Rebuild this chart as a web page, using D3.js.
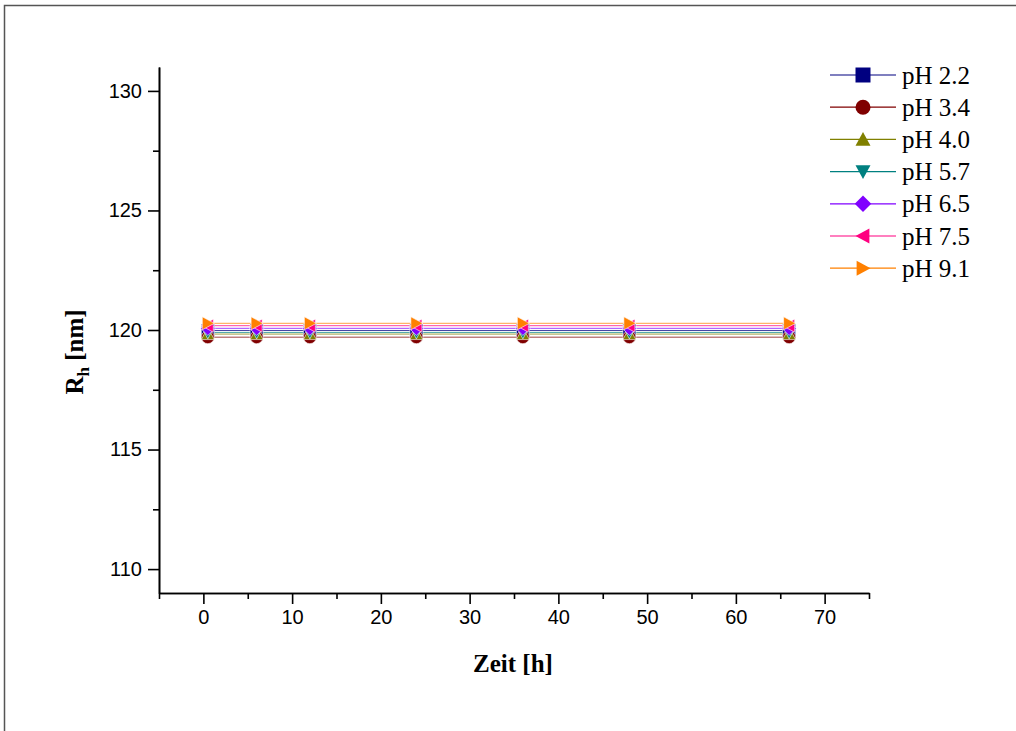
<!DOCTYPE html>
<html>
<head>
<meta charset="utf-8">
<script src="https://cdn.jsdelivr.net/npm/d3@7"></script>
<style>
  html, body { margin: 0; padding: 0; background: #fff; overflow: hidden; }
  svg { display: block; }
</style>
</head>
<body>
<svg id="chart" width="1016" height="731"></svg>
<script>
// Sampling times (h)
const times = [0.5, 6, 12, 24, 36, 48, 66];

// Series names and hydrodynamic radius per pH (nm), constant over time
const seriesNames = ["pH 2.2", "pH 3.4", "pH 4.0", "pH 5.7", "pH 6.5", "pH 7.5", "pH 9.1"];
const rh_pH22 = [119.98, 119.98, 119.98, 119.98, 119.98, 119.98, 119.98];
const rh_pH34 = [119.70, 119.70, 119.70, 119.70, 119.70, 119.70, 119.70];
const rh_pH40 = [119.83, 119.83, 119.83, 119.83, 119.83, 119.83, 119.83];
const rh_pH57 = [119.90, 119.90, 119.90, 119.90, 119.90, 119.90, 119.90];
const rh_pH65 = [120.07, 120.07, 120.07, 120.07, 120.07, 120.07, 120.07];
const rh_pH75 = [120.18, 120.18, 120.18, 120.18, 120.18, 120.18, 120.18];
const rh_pH91 = [120.28, 120.28, 120.28, 120.28, 120.28, 120.28, 120.28];
const seriesValues = [rh_pH22, rh_pH34, rh_pH40, rh_pH57, rh_pH65, rh_pH75, rh_pH91];

// Axis ticks
const xTicksMajor = [0, 10, 20, 30, 40, 50, 60, 70];
const xTicksMinor = [-5, 5, 15, 25, 35, 45, 55, 65, 75];
const yTicksMajor = [110, 115, 120, 125, 130];
const yTicksMinor = [112.5, 117.5, 122.5, 127.5];

const colors = ["#000080", "#800000", "#808000", "#008080", "#8000FF", "#FF0080", "#FF8000"];
const symbolKinds = ["square", "circle", "triUp", "triDown", "diamond", "triLeft", "triRight"];

const svg = d3.select("#chart");

// outer frame: only the top and left edges fall inside the page
svg.append("path")
  .attr("d", "M4.5,731V5.5H1016")
  .attr("fill", "none").attr("stroke", "#555").attr("stroke-width", 1.5);

const x = d3.scaleLinear().domain([-5, 75]).range([159, 869]);
const y = d3.scaleLinear().domain([109, 131]).range([593, 67]);

// symbol path generator centred at 0,0
function symbolPath(kind, s) {
  const h = s / 2;
  switch (kind) {
    case "square": return `M${-h},${-h}H${h}V${h}H${-h}Z`;
    case "circle": return `M${h},0A${h},${h} 0 1,1 ${-h},0A${h},${h} 0 1,1 ${h},0Z`;
    case "triUp": return `M0,${-h}L${h},${h * 0.85}L${-h},${h * 0.85}Z`;
    case "triDown": return `M0,${h}L${h},${-h * 0.85}L${-h},${-h * 0.85}Z`;
    case "diamond": return `M0,${-h * 1.1}L${h * 1.1},0L0,${h * 1.1}L${-h * 1.1},0Z`;
    case "triLeft": return `M${-h},0L${h * 0.85},${-h}L${h * 0.85},${h}Z`;
    case "triRight": return `M${h},0L${-h * 0.85},${-h}L${-h * 0.85},${h}Z`;
  }
}

// data lines
const line = d3.line().x(d => x(d[0])).y(d => y(d[1]));
const plot = svg.append("g");
seriesValues.forEach((vals, i) => {
  const pts = times.map((t, j) => [t, vals[j]]);
  plot.append("path")
    .attr("d", line(pts))
    .attr("fill", "none")
    .attr("stroke", colors[i])
    .attr("stroke-opacity", 0.75)
    .attr("stroke-width", 1);
});
seriesValues.forEach((vals, i) => {
  plot.selectAll(null)
    .data(times.map((t, j) => [t, vals[j]]))
    .enter().append("path")
    .attr("transform", d => `translate(${x(d[0])},${y(d[1])})`)
    .attr("d", symbolPath(symbolKinds[i], 13))
    .attr("fill", colors[i])
    .attr("stroke", "#fff")
    .attr("stroke-width", 0.6);
});

// axes
const axisColor = "#000";
const axisW = 1.6;
const tickFont = "'Liberation Sans', Arial, sans-serif";

const xAxisMajor = d3.axisBottom(x).tickValues(xTicksMajor).tickSize(11).tickSizeOuter(0).tickPadding(6).tickFormat(d3.format("d"));
const xAxisMinor = d3.axisBottom(x).tickValues(xTicksMinor).tickSize(6).tickSizeOuter(0).tickFormat("");
const yAxisMajor = d3.axisLeft(y).tickValues(yTicksMajor).tickSize(11).tickSizeOuter(0).tickPadding(6).tickFormat(d3.format("d"));
const yAxisMinor = d3.axisLeft(y).tickValues(yTicksMinor).tickSize(6).tickSizeOuter(0).tickFormat("");

function styleAxis(g) {
  g.select(".domain").attr("stroke", axisColor).attr("stroke-width", axisW);
  g.selectAll(".tick line").attr("stroke", axisColor).attr("stroke-width", axisW);
  g.selectAll(".tick text").attr("fill", "#000")
    .style("font-family", tickFont).style("font-size", "20px");
}

svg.append("g").attr("transform", `translate(0,${y(109)})`).call(xAxisMinor).call(styleAxis);
svg.append("g").attr("transform", `translate(0,${y(109)})`).call(xAxisMajor).call(styleAxis);
svg.append("g").attr("transform", `translate(${x(-5)},0)`).call(yAxisMinor).call(styleAxis);
svg.append("g").attr("transform", `translate(${x(-5)},0)`).call(yAxisMajor).call(styleAxis);

// axis titles
const titleFont = "'Liberation Serif', 'Times New Roman', serif";
svg.append("text")
  .attr("x", 513).attr("y", 672)
  .attr("text-anchor", "middle")
  .style("font-family", titleFont).style("font-size", "25px").style("font-weight", "bold")
  .text("Zeit [h]");

const yt = svg.append("text")
  .attr("transform", "translate(83,352) rotate(-90)")
  .attr("text-anchor", "middle")
  .style("font-family", titleFont).style("font-size", "25px").style("font-weight", "bold");
yt.append("tspan").text("R");
yt.append("tspan").attr("dy", 6).style("font-size", "17px").text("h");
yt.append("tspan").attr("dy", -6).text(" [nm]");

// legend
const legend = svg.append("g");
seriesNames.forEach((name, i) => {
  const cy = 75 + i * 32.2;
  legend.append("line")
    .attr("x1", 830).attr("x2", 896).attr("y1", cy).attr("y2", cy)
    .attr("stroke", colors[i]).attr("stroke-width", 1.2);
  legend.append("path")
    .attr("transform", `translate(863,${cy})`)
    .attr("d", symbolPath(symbolKinds[i], 15))
    .attr("fill", colors[i]);
  legend.append("text")
    .attr("x", 902).attr("y", cy + 8.5)
    .style("font-family", titleFont).style("font-size", "25px")
    .text(name);
});
</script>
</body>
</html>
